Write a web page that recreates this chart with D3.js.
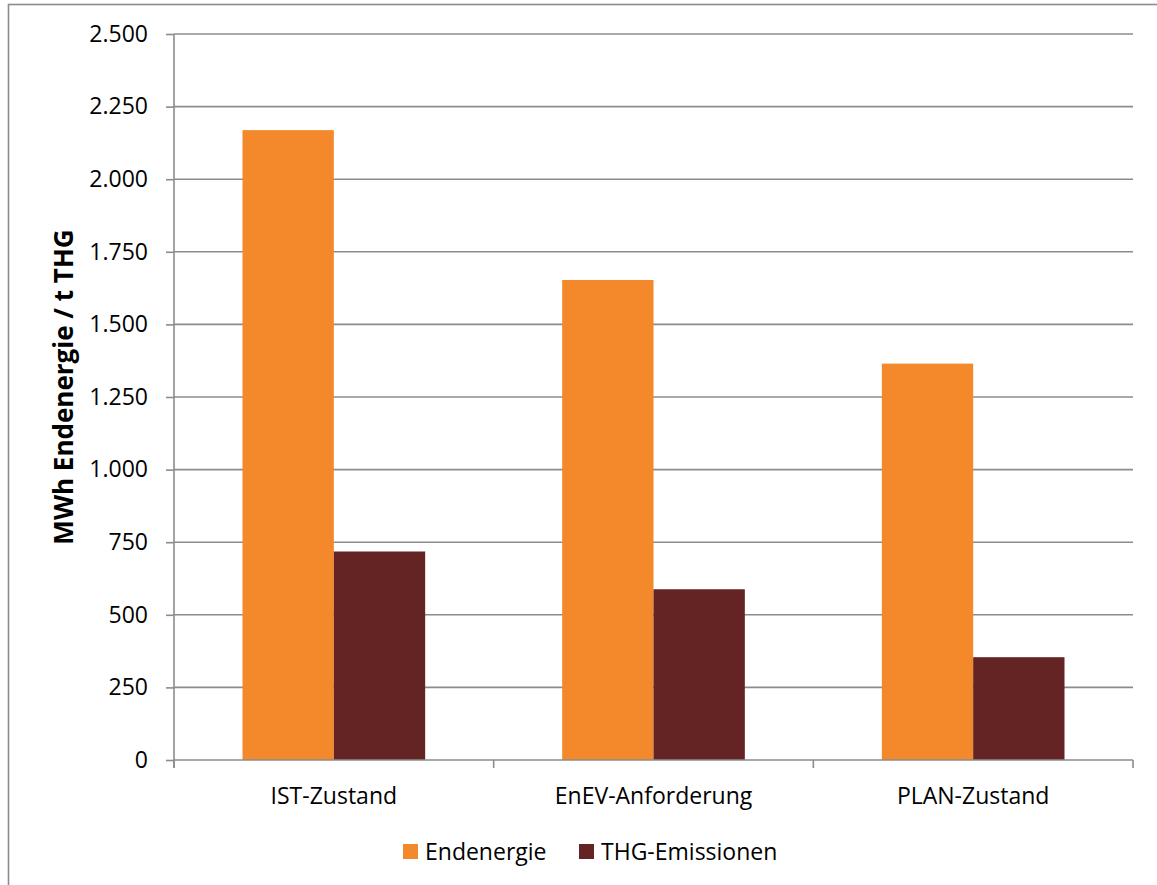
<!DOCTYPE html>
<html lang="de">
<head>
<meta charset="UTF-8">
<title>Endenergie / THG</title>
<style>
body { margin: 0; background: #fff; }
text { font-family: "Open Sans", "Noto Sans", sans-serif; fill: #000; }
.grid line { stroke: #8c8c8c; stroke-width: 1.6; }
.axis path, .axis line { stroke: #8c8c8c; stroke-width: 1.6; }
</style>
</head>
<body>
<script src="https://cdnjs.cloudflare.com/ajax/libs/d3/7.8.5/d3.min.js"></script>
<script>
// Daten
var categories = ["IST-Zustand", "EnEV-Anforderung", "PLAN-Zustand"];
var seriesNames = ["Endenergie", "THG-Emissionen"];
var endenergie = [2169, 1653, 1365];
var thg = [718, 588, 354];
var yTicks = [0, 250, 500, 750, 1000, 1250, 1500, 1750, 2000, 2250, 2500];
var colors = ["#f4892b", "#632423"];

var width = 1157, height = 885;
var plotLeft = 174, plotRight = 1133, plotTop = 34, plotBottom = 760;

var svg = d3.select("body").append("svg")
    .attr("width", width)
    .attr("height", height);

// Rahmen
svg.append("rect")
    .attr("x", 8.5).attr("y", 4.5)
    .attr("width", 1160).attr("height", 900)
    .attr("fill", "none")
    .attr("stroke", "#8c8c8c")
    .attr("stroke-width", 1.6);

var x0 = d3.scaleBand().domain(categories).range([plotLeft, plotRight]);
var x1 = d3.scaleBand().domain(seriesNames)
    .range([0, x0.bandwidth()])
    .paddingOuter(0.75);
var y = d3.scaleLinear().domain([0, 2500]).range([plotBottom, plotTop]);

var fmt = function(v) { return d3.format(",")(v).replace(/,/g, "."); };

// Gitterlinien
svg.append("g").attr("class", "grid")
  .selectAll("line")
  .data(yTicks.slice(1))
  .enter().append("line")
    .attr("x1", plotLeft).attr("x2", plotRight)
    .attr("y1", function(d) { return y(d); })
    .attr("y2", function(d) { return y(d); });

// Balken
var rows = categories.map(function(c, i) {
  return { cat: c, values: [endenergie[i], thg[i]] };
});

svg.append("g").selectAll("g")
  .data(rows)
  .enter().append("g")
    .attr("transform", function(d) { return "translate(" + x0(d.cat) + ",0)"; })
  .selectAll("rect")
  .data(function(d) { return d.values.map(function(v, j) { return { s: seriesNames[j], v: v, j: j }; }); })
  .enter().append("rect")
    .attr("x", function(d) { return x1(d.s); })
    .attr("width", x1.bandwidth())
    .attr("y", function(d) { return y(d.v); })
    .attr("height", function(d) { return plotBottom - y(d.v); })
    .attr("fill", function(d) { return colors[d.j]; });

// y-Achse
var yAxis = svg.append("g").attr("class", "axis")
    .attr("transform", "translate(" + plotLeft + ",0)")
    .call(d3.axisLeft(y).tickValues(yTicks).tickFormat(fmt).tickSizeInner(8).tickSizeOuter(0).tickPadding(18));
yAxis.selectAll("text").style("font-size", "23px").attr("fill", "#000");
yAxis.select(".domain").attr("d", "M0," + plotTop + "V" + (plotBottom + 8));

// x-Achse
var xAxis = svg.append("g").attr("class", "axis")
    .attr("transform", "translate(0," + plotBottom + ")");
xAxis.append("line").attr("x1", plotLeft).attr("x2", plotRight).attr("y1", 0).attr("y2", 0);
xAxis.selectAll(".tk")
  .data(categories.map(function(c) { return x0(c); }).concat([plotRight]))
  .enter().append("line")
    .attr("x1", function(d) { return d; }).attr("x2", function(d) { return d; })
    .attr("y1", 0).attr("y2", 8);
xAxis.selectAll(".lbl")
  .data(categories)
  .enter().append("text")
    .attr("x", function(d) { return x0(d) + x0.bandwidth() / 2; })
    .attr("y", 44)
    .attr("text-anchor", "middle")
    .style("font-size", "23px")
    .text(function(d) { return d; });

// Achsentitel
svg.append("text")
    .attr("transform", "translate(73," + ((plotTop + plotBottom) / 2 - 10) + ")rotate(-90)")
    .attr("text-anchor", "middle")
    .style("font-size", "26px")
    .style("font-weight", "bold")
    .text("MWh Endenergie / t THG");

// Legende
var legendX = [403, 579];
var legend = svg.append("g").selectAll("g")
  .data(seriesNames)
  .enter().append("g")
    .attr("transform", function(d, i) { return "translate(" + legendX[i] + ",844)"; });
legend.append("rect")
    .attr("width", 15).attr("height", 15)
    .attr("fill", function(d, i) { return colors[i]; });
legend.append("text")
    .attr("x", 22).attr("y", 16)
    .style("font-size", "23px")
    .text(function(d) { return d; });
</script>
</body>
</html>
